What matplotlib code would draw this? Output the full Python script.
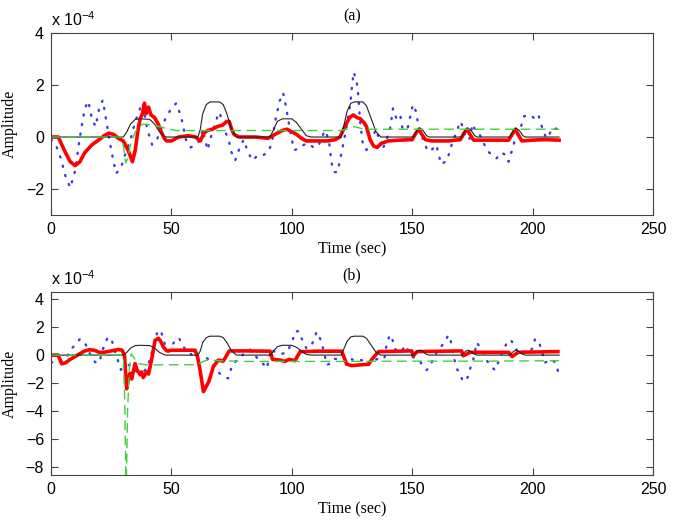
#! /usr/bin python3
# -*- coding:utf-8  -*-

import matplotlib
matplotlib.use('Agg')
from matplotlib import pyplot as plt

plt.rcParams['font.family'] = ['Liberation Sans', 'DejaVu Sans']
plt.rcParams['mathtext.default'] = 'regular'

# amplitudes are in units of 1e-4, time in sec

# black thin line (same reference signal in both panels)
ref_t = [0, 30, 31.5, 33, 35, 37, 41, 43, 45, 47, 48, 61, 62, 63, 64.5, 66, 70, 71.5, 73, 75, 77,
         91, 92.5, 94, 96, 100, 102, 104, 106, 108, 120.5, 121.5, 123, 124.5, 126, 129.5, 131, 133,
         135, 137, 150.5, 152, 153.2, 154.5, 156, 157, 170.5, 172, 173, 174.5, 176, 177, 190.5, 192,
         193, 194.5, 196, 197, 211]
ref_v = [0, 0, 0.2, 0.5, 0.68, 0.7, 0.68, 0.5, 0.2, 0.03, 0, 0, 0.3, 0.9, 1.25, 1.35, 1.35, 1.25, 0.9, 0.3, 0,
         0, 0.3, 0.6, 0.7, 0.7, 0.55, 0.3, 0.05, 0, 0, 0.4, 1.0, 1.3, 1.35, 1.35, 1.2, 0.7,
         0.2, 0, 0, 0.25, 0.35, 0.25, 0.05, 0, 0, 0.25, 0.35, 0.25, 0.05, 0, 0, 0.25,
         0.35, 0.25, 0.05, 0, 0]

# (a) blue dotted
a_blue_t = [0, 2, 4, 6, 8, 10, 12, 14, 15.5, 17, 18.5, 20, 21.5, 23, 25, 27, 29, 31, 33, 35, 37, 38,
            40, 42, 44, 46, 48, 50, 52, 54, 56, 58, 60, 62, 63, 65, 67, 69, 70, 72, 74, 75, 76.5, 78,
            80, 81.5, 83.5, 86, 88, 90, 91.7, 93, 95, 96.4, 97.5, 99, 100, 101, 103, 105, 107, 109,
            111, 113, 114, 115.5, 116.5, 117.5, 119, 120, 121.3, 122.6, 123.4, 124.2, 125, 125.7,
            126.9, 127.6, 128.3, 129.6, 131, 133, 135, 137.5, 139, 141, 142, 143.5, 145, 146, 148,
            150.3, 151.5, 152.5, 154.5, 156.5, 158, 160, 162, 164.5, 166, 168, 170, 171, 172.5, 174,
            175, 176, 178, 180, 182, 185, 187, 189, 190, 191.5, 193, 195, 196.5, 199, 201, 202.4,
            203.5, 204.5, 205.8, 207, 208, 210.7]
a_blue_v = [-0.1, -0.3, -0.8, -1.5, -1.95, -1.3, 0.0, 1.1, 1.38, 0.7, 0.4, 1.1, 1.42, 0.6, -0.5, -1.4, -1.2,
            -0.6, -0.1, 0.6, 1.1, 1.3, 0.3, -0.3, -0.1, 0.4, 0.8, 1.1, 1.3, 0.8, -0.1, -0.4, -0.3, -0.1,
            0.3, -0.5, 0.2, 0.75, 0.95, 0.3, -0.2, -0.6, -0.9, -0.5, -0.1, -0.5, -0.9, -0.7, -0.7, -0.6,
            -0.25, 0.57, 1.4, 1.7, 1.2, 0.4, -0.1, -0.5, -0.45, -0.3, -0.25, -0.4, -0.35, 0.1, 0.25,
            -0.2, -1.0, -1.35, -1.35, -0.9, -0.3, 0.3, 0.8, 1.2, 1.95, 2.5, 2.15, 1.6, 0.65, -0.35,
            -0.5, -0.1, 0.3, -0.5, -0.2, 0.4, 1.1, 0.7, 0.85, 0.3, 0.3, 1.25, 1.0, 0.5, -0.1, -0.55,
            -0.5, -0.3, -1.05, -0.9, -0.4, 0.1, 0.6, 0.4, -0.1, -0.05, 0.5, 0.3, 0.1, -0.3, -0.6,
            -0.82, -0.6, -0.7, -0.95, -0.5, 0.0, 0.35, 0.8, 0.85, 0.7, 0.85, 0.5, 0.2, -0.05, 0.1,
            0.35, 0.3]

# (a) green dashed
a_green_t = [0, 29, 30, 31, 32, 33, 35, 38, 43, 47, 52, 120, 123, 126, 130, 211]
a_green_v = [0, 0, -0.3, -1.0, -0.8, -0.3, 0.2, 0.5, 0.45, 0.35, 0.25, 0.25, 0.3, 0.4, 0.3, 0.3]

# (a) red thick
a_red_t = [0, 3, 4, 6, 8, 10, 12, 14, 17, 20, 22, 24, 26, 28, 30, 32, 33.8, 35, 36, 37, 38, 38.8,
           39.5, 40.5, 41.5, 43, 44.5, 46, 47, 48, 50, 53, 57, 60, 62, 63.5, 65, 67, 69, 71, 73, 74,
           75, 76, 78, 85, 90, 93, 96, 98, 100, 102, 104, 106, 110, 115, 118, 120, 122, 124, 125.5,
           127, 128.5, 130, 131, 132.5, 134, 135.5, 137, 140, 145, 150, 151.5, 152.8, 154, 155.5,
           158, 165, 170, 171.5, 172.8, 174, 175.5, 180, 190, 191.5, 192.8, 194, 195.5, 200, 205, 211]
a_red_v = [0, 0, -0.2, -0.6, -0.95, -1.1, -0.95, -0.6, -0.3, -0.1, 0.05, 0.15, 0.1, -0.05, -0.15, -0.5,
           -0.95, -0.5, 0.2, 0.7, 0.9, 1.3, 0.9, 1.15, 0.85, 0.75, 0.5, 0.15, -0.05, -0.15, -0.15, 0.0,
           0.05, 0.0, -0.15, 0.15, 0.25, 0.3, 0.4, 0.45, 0.6, 0.6, 0.3, 0.1, 0.0, 0.0, -0.05, 0.1, 0.25,
           0.3, 0.2, 0.1, -0.05, -0.15, -0.15, -0.15, -0.1, 0.0, 0.4, 0.75, 0.85, 0.75, 0.7, 0.55, 0.4,
           -0.1, -0.35, -0.4, -0.25, -0.15, -0.12, -0.1, 0.15, 0.3, 0.1, -0.1, -0.15, -0.15, -0.1, 0.15,
           0.3, 0.1, -0.12, -0.12, -0.12, 0.1, 0.3, 0.1, -0.15, -0.12, -0.1, -0.12]

# (b) blue dotted
b_blue_t = [0, 2, 4, 6.5, 8, 10, 12, 14, 16, 18.3, 20, 21.5, 23.5, 25, 26.5, 28, 29, 31, 32.5, 34, 36,
            38, 40, 42, 44, 45.3, 46.5, 47.5, 49, 51, 53, 54.5, 56, 58, 60, 62, 64.5, 66, 68, 70, 72,
            73.5, 75.5, 78, 80, 82.5, 84, 86, 88, 89.6, 91.5, 93, 96, 98, 100, 101.5, 103, 104.5, 106,
            108, 110.3, 111.5, 112.5, 113.8, 114.5, 116, 117.5, 119, 121, 123, 126, 129, 131.5,
            133.5, 136.5, 138.5, 139.5, 140.8, 142, 143, 145, 147.5, 149, 151, 153, 154.6, 156,
            157.5, 159, 161.5, 163.6, 165, 166, 167, 168.5, 170, 171.2, 173, 174, 175.4, 176.8, 178,
            180, 181, 183, 184.4, 186, 187.8, 189.2, 191, 192.5, 194, 196, 198, 200, 201, 202.5, 204,
            205.1, 207.2, 209, 210, 210.8]
b_blue_v = [-0.5, -0.55, -0.45, -0.2, 0.4, 0.7, 1.15, 0.9, 0.15, -0.5, -0.55, 0.4, 1.25, 1.2, 0.3, -0.5,
            -1.05, -0.8, -0.7, -1.0, -1.2, -1.25, -0.9, 0.3, 1.55, 1.8, 1.3, 0.6, 0.25, 0.9, 1.25, 0.8,
            0.3, 0.1, -0.35, -0.3, -0.2, -0.35, -0.9, -1.3, -1.5, -1.66, -0.6, -0.3, 0.1, 0.4, 0.15,
            -0.3, -0.6, -0.95, 0.45, 0.2, 0.1, 0.2, 0.9, 1.7, 1.7, 1.0, 0.5, 0.6, 1.66, 1.3, 0.8, -0.1,
            -0.7, -0.6, -0.25, -0.3, 0.0, -0.1, -0.4, -0.35, -0.75, -0.5, -0.15, -0.2, 0.9, 1.45, 1.0,
            0.4, 0.2, 0.7, 0.0, -0.2, -0.4, -0.8, -1.07, -0.8, -0.1, 0.5, 0.95, 1.43, 1.0, 0.0, -0.95,
            -1.45, -1.9, -1.6, -1.0, -0.3, 0.9, 0.6, 0.0, -0.4, -0.85, -1.07, -0.4, 0.36, 0.83, 1.1,
            0.6, 0.2, 0.3, 0.1, 0.5, 1.15, 1.0, 0.2, -0.55, -0.3, -0.45, -0.8, -1.3]

# (b) green dashed, dips far below the axis near 31 s
b_green_t = [0, 30, 30.6, 31.2, 31.8, 32.5, 33.3, 34.5, 36, 40, 60.5, 62, 64, 66, 70, 80, 100, 120,
             150, 180, 211]
b_green_v = [0, 0, -3, -10, -4, -1, 0.1, -0.2, -0.6, -0.7, -0.68, -0.55, -0.4, -0.35, -0.4, -0.45,
             -0.45, -0.45, -0.43, -0.43, -0.4]

# (b) red thick
b_red_t = [0, 3, 4.4, 6, 8, 10, 12, 14, 16, 18, 20, 22, 25, 28, 29.5, 30.5, 31.4, 32.2, 32.8, 33.5,
           34.9, 35.6, 37, 37.6, 38.3, 39.7, 40.5, 41.8, 43.2, 44.6, 45.5, 46.6, 48, 50, 55, 59.8,
           60.8, 61.9, 63.3, 65.5, 67.4, 69.4, 71.5, 72.5, 74, 80, 91, 92, 95, 97, 99, 101.3, 103.4,
           110, 120.7, 122.8, 125, 128, 131.8, 133.5, 136, 149.8, 150.4, 152, 170.5, 171.2, 174, 190,
           191.5, 194, 200, 210.5]
b_red_v = [0, 0, -0.62, -0.55, -0.3, -0.1, 0.1, 0.3, 0.38, 0.35, 0.2, 0.2, 0.3, 0.4, 0.35, 0.0, -2.4,
           -1.6, -1.3, -1.7, -0.6, -1.0, -1.4, -1.2, -1.6, -1.2, -1.35, -0.3, 1.05, 1.2, 1.0, 0.6, 0.3,
           0.35, 0.35, 0.35, -0.1, -1.07, -2.6, -1.9, -0.83, -0.36, -0.43, -0.15, 0.3, 0.3, 0.28, -0.3,
           -0.35, -0.45, -0.3, -0.4, 0.24, 0.28, 0.28, -0.65, -0.75, -0.7, -0.65, -0.25, 0.25, 0.3,
           -0.06, 0.25, 0.3, -0.05, 0.2, 0.2, -0.1, 0.2, 0.22, 0.25]

panels = [
    ('(a)', [0.0758, 0.5873, 0.8945, 0.3493], (-3, 4), [-2, 0, 2, 4],
     a_blue_t, a_blue_v, a_green_t, a_green_v, a_red_t, a_red_v),
    ('(b)', [0.0758, 0.0883, 0.8945, 0.3512], (-8.55, 4.5), [-8, -6, -4, -2, 0, 2, 4],
     b_blue_t, b_blue_v, b_green_t, b_green_v, b_red_t, b_red_v),
]

fig = plt.figure(figsize=(6.73, 5.21), dpi=100)
serif = ['Liberation Serif', 'DejaVu Serif']

for title, rect, ylim, yticks, bt, bv, gt, gv, rt, rv in panels:
    ax = fig.add_axes(rect)
    ax.plot(bt, bv, color='#3a3ae8', lw=1.7, linestyle=(0, (0.5, 3.6)), dash_capstyle='round')
    ax.plot(rt, rv, color='#ff0000', lw=2.6, solid_joinstyle='round')
    ax.plot(ref_t, ref_v, color='#222222', lw=0.8)
    ax.plot(gt, gv, color='#3fd23f', lw=1.0, linestyle=(0, (7, 4)))
    ax.set_xlim(0, 250)
    ax.set_ylim(*ylim)
    ax.set_xticks([0, 50, 100, 150, 200, 250])
    ax.set_yticks(yticks)
    ax.tick_params(direction='in', top=True, right=True, length=5, width=0.8,
                   color='#444444', labelsize=11.5, pad=5)
    for sp in ax.spines.values():
        sp.set_color('#444444')
        sp.set_linewidth(0.8)
    ax.set_title(title, fontsize=11.5, family=serif, pad=9)
    ax.set_xlabel('Time (sec)', fontsize=11.5, family=serif, labelpad=3)
    ax.set_ylabel('Amplitude', fontsize=11.5, family=serif, labelpad=6)
    ax.text(0, 1.04, r'x 10$^{-4}$', transform=ax.transAxes, fontsize=11.5,
            ha='left', va='baseline')

fig.savefig('out.png', dpi=100)
